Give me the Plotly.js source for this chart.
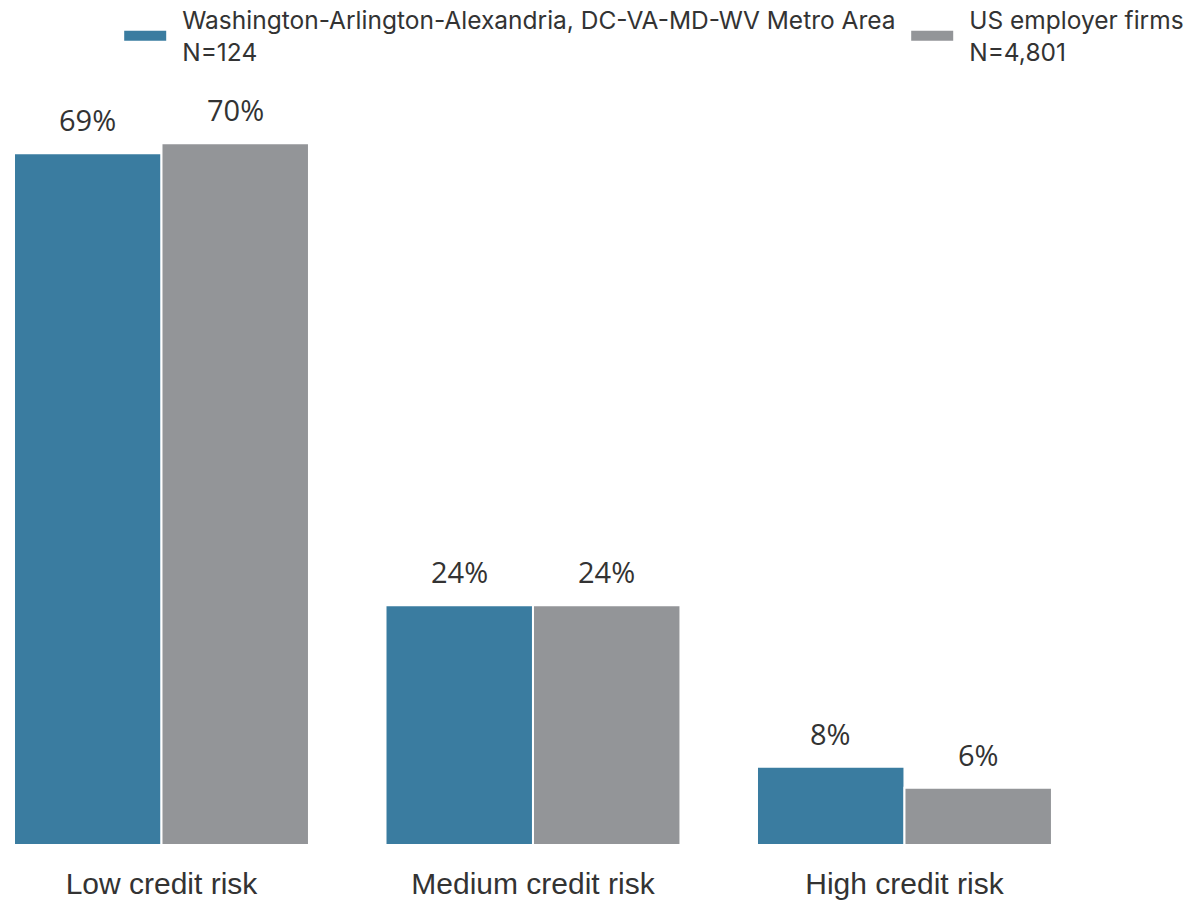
<!DOCTYPE html>
<html>
<head>
<meta charset="utf-8">
<script src="https://cdn.plot.ly/plotly-3.0.1.min.js"></script>
<style>
html,body{margin:0;padding:0;background:#fff;}
#chart{width:1192px;height:901px;}
.legendtext{transform:translateX(11px);}
</style>
</head>
<body>
<div id="chart"></div>
<script>
const categories = ["Low credit risk", "Medium credit risk", "High credit risk"];
const metroName = "Washington-Arlington-Alexandria, DC-VA-MD-WV Metro Area<br>N=124";
const usName = "US employer firms<br>N=4,801";
const metroValues = [69.0, 23.9, 7.8];
const usValues = [70.0, 23.9, 5.7];
const metroLabels = ["69%", "24%", "8%"];
const usLabels = ["70%", "24%", "6%"];

const teal = "#3a7ca0";
const gray = "#939598";
const textColor = "#333333";
const bargap = 0.206;
const barOffset = (1 - bargap) / 4;
const labelFont = {size: 29, color: textColor, family: "Open Sans"};

const traces = [
  {type: "bar", x: categories, y: metroValues, name: metroName, showlegend: false,
   marker: {color: teal, line: {color: "#ffffff", width: 2}}, hoverinfo: "skip"},
  {type: "bar", x: categories, y: usValues, name: usName, showlegend: false,
   marker: {color: gray, line: {color: "#ffffff", width: 2}}, hoverinfo: "skip"},
  {type: "scatter", mode: "lines", x: [categories[0]], y: [null], name: metroName, legendwidth: 730,
   line: {color: teal, width: 12}, hoverinfo: "skip"},
  {type: "scatter", mode: "lines", x: [categories[0]], y: [null], name: usName, legendwidth: 230,
   line: {color: gray, width: 12}, hoverinfo: "skip"}
];

const annotations = [];
categories.forEach((c, i) => {
  annotations.push({x: i - barOffset, y: metroValues[i], xref: "x", yref: "y", text: metroLabels[i],
    showarrow: false, yanchor: "bottom", yshift: 12, font: labelFont});
  annotations.push({x: i + barOffset, y: usValues[i], xref: "x", yref: "y", text: usLabels[i],
    showarrow: false, yanchor: "bottom", yshift: 12, font: labelFont});
});

const layout = {
  width: 1192, height: 901,
  margin: {l: 0, r: 0, t: 80, b: 56, autoexpand: false},
  paper_bgcolor: "#ffffff", plot_bgcolor: "#ffffff",
  font: {family: "Inter", color: textColor},
  barmode: "group", bargap: bargap, bargroupgap: 0,
  xaxis: {type: "category", range: [-0.4347, 2.774], showgrid: false, zeroline: false, showline: false,
    ticks: "", ticklabelstandoff: 18, tickfont: {size: 30, color: textColor, family: "Liberation Sans"}, fixedrange: true},
  yaxis: {range: [0, 76.3], showgrid: false, zeroline: false, showline: false, showticklabels: false, fixedrange: true},
  legend: {orientation: "h", x: 0.1, xanchor: "left", y: 1.108, yanchor: "top",
    font: {size: 24.5, color: textColor, family: "Inter"}, itemwidth: 42, traceorder: "normal"},
  annotations: annotations
};

Plotly.newPlot("chart", traces, layout, {displayModeBar: false, staticPlot: true});
</script>
</body>
</html>
